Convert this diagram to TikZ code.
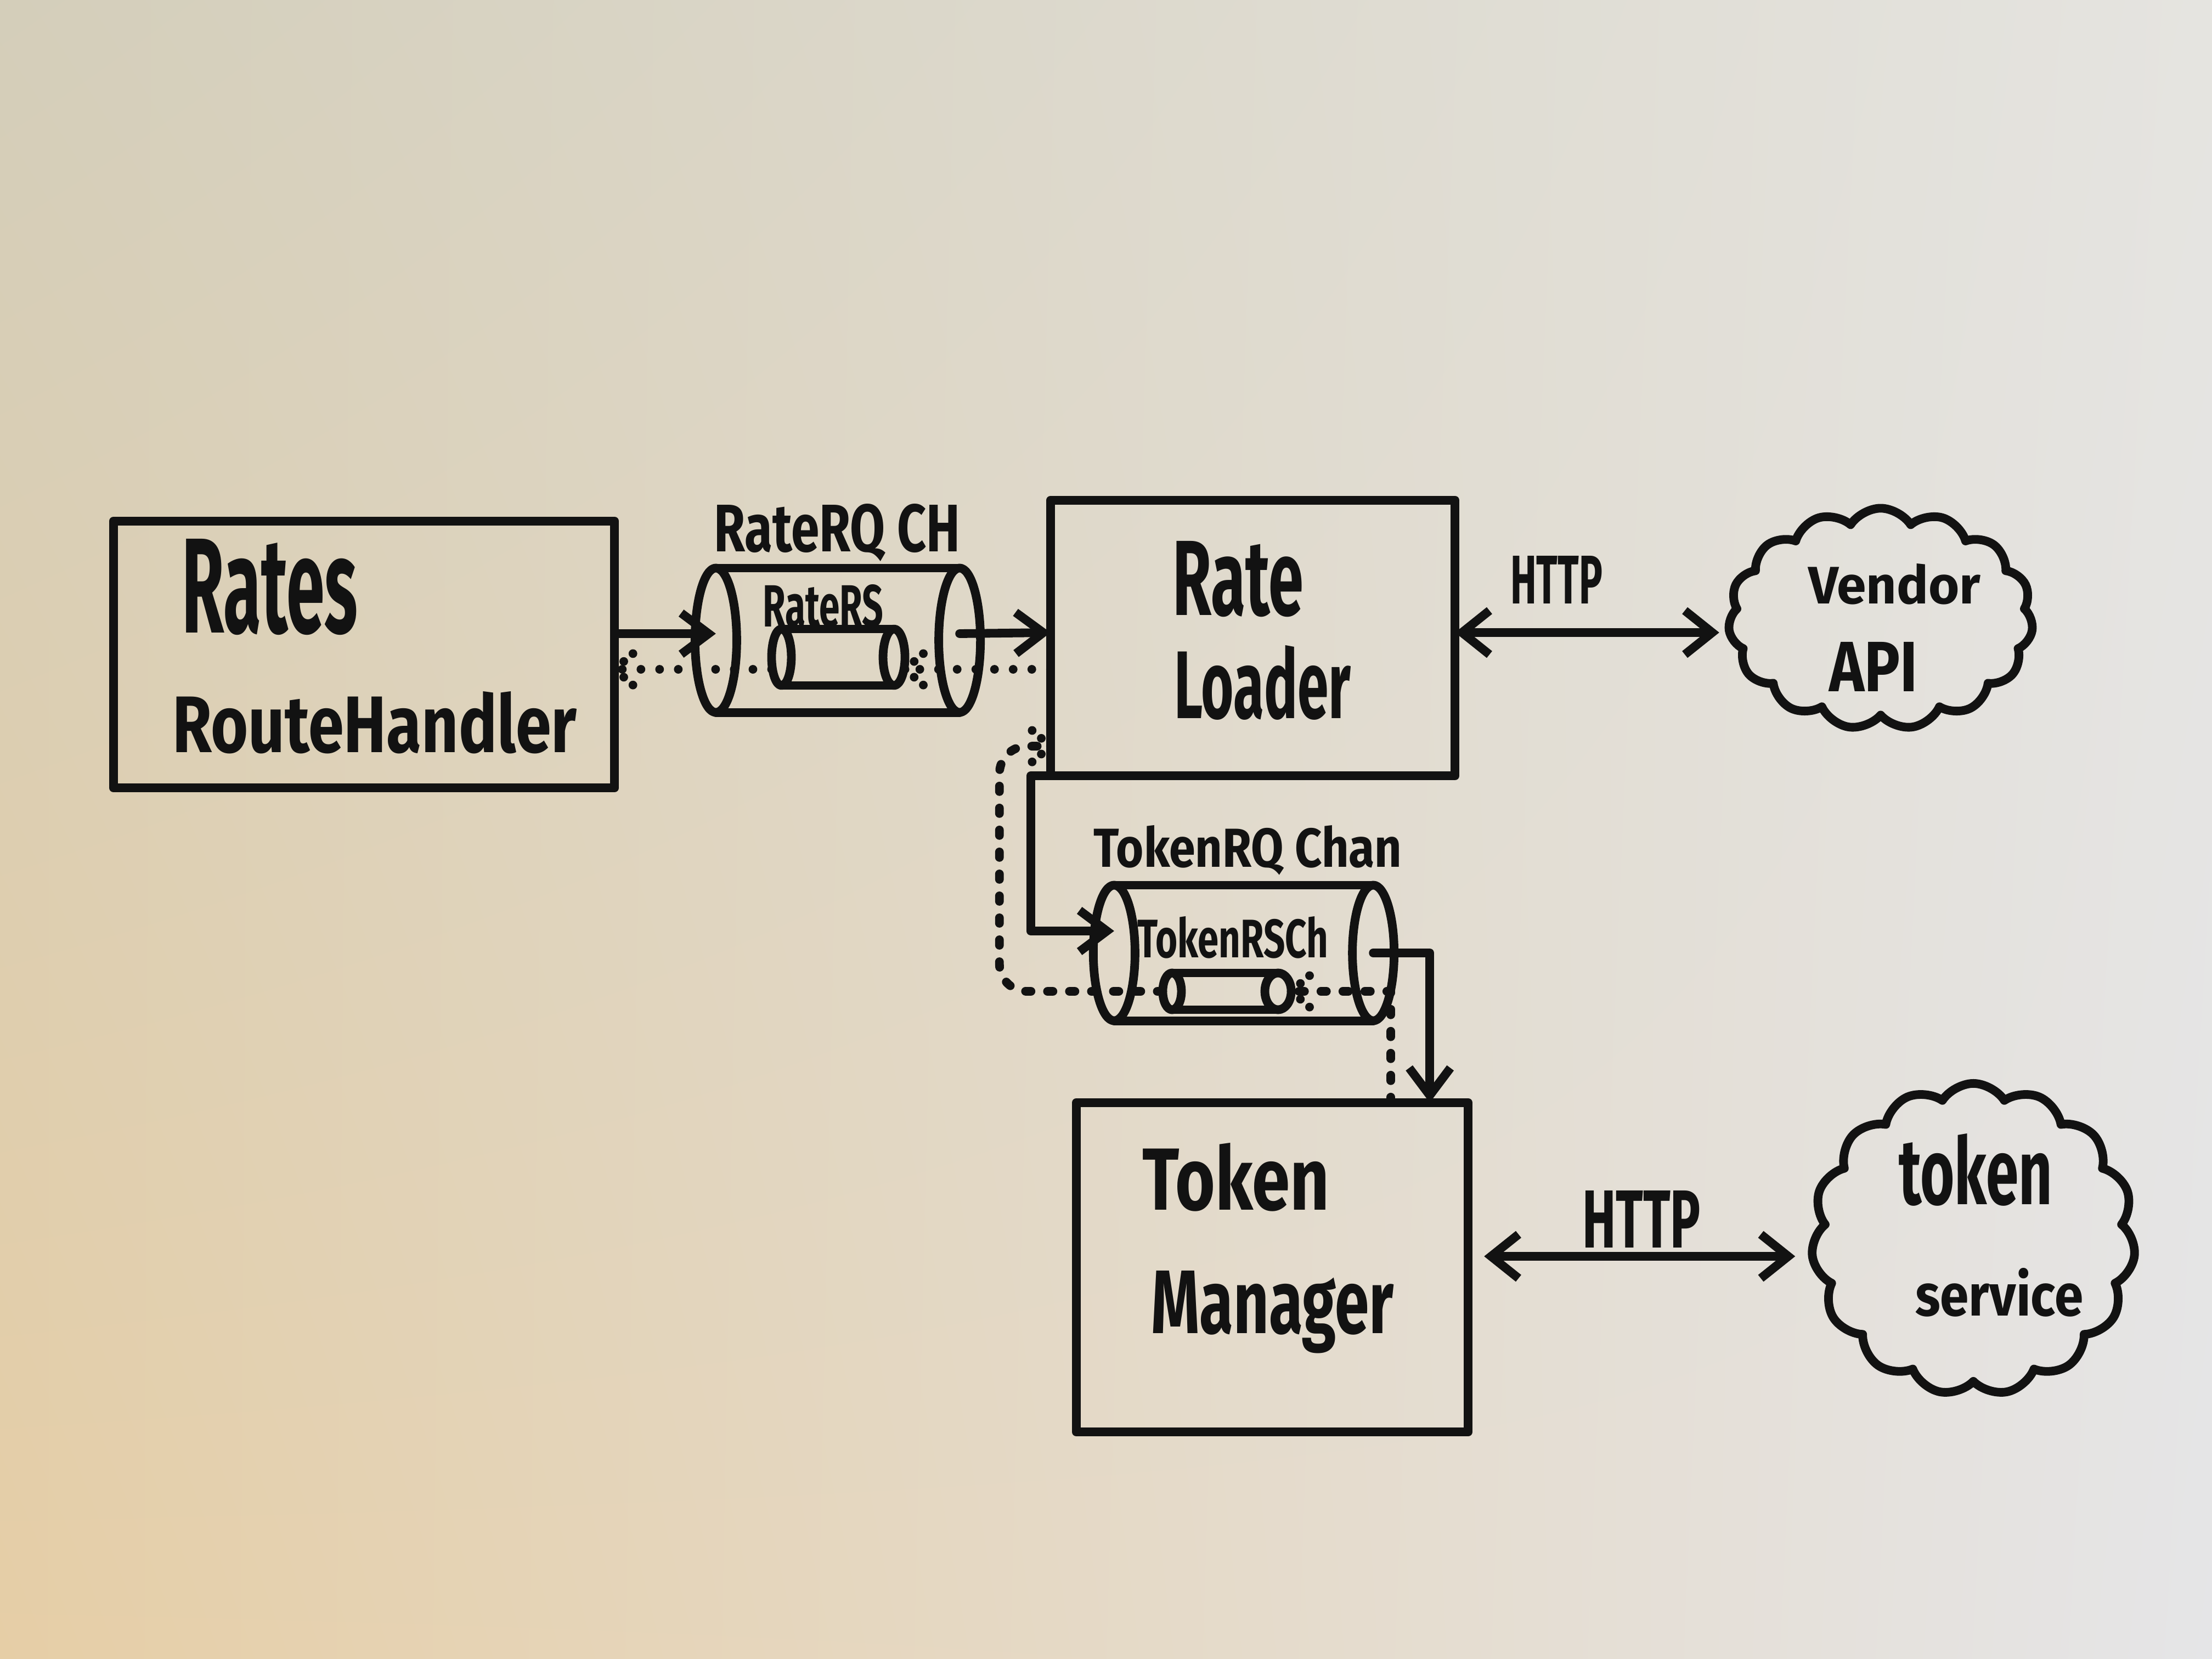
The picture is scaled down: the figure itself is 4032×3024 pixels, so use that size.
\documentclass[tikz,border=0pt]{standalone}
\usepackage{fontspec}
\setmainfont{Fira Sans}
\usepackage{graphicx}
\usetikzlibrary{arrows.meta,shapes.symbols,decorations.markings,calc,shadings}

\definecolor{ink}{HTML}{121212}
\definecolor{bgUL}{HTML}{D4CEBA}
\definecolor{bgUR}{HTML}{E5E4E0}
\definecolor{bgLL}{HTML}{E6CEA6}
\definecolor{bgLR}{HTML}{E5E5E7}
\newcommand{\hw}[3]{\resizebox{#1cm}{#2cm}{\bfseries #3}}

\begin{document}
\begin{tikzpicture}[x=0.01cm,y=-0.01cm,
  ink/.style={draw=ink, line width=4.5pt, line join=round, line cap=round},
  box/.style={ink, rectangle, inner sep=0pt, outer sep=0pt},
  chan/.style={inner sep=0pt, outer sep=0pt},
  txt/.style={inner sep=0pt, outer sep=0pt, text=ink, anchor=base west},
  arr/.style={ink, -{Straight Barb[length=0.5cm,width=0.75cm]}},
  dbl/.style={ink, {Straight Barb[length=0.5cm,width=0.8cm]}-{Straight Barb[length=0.5cm,width=0.8cm]}},
  dots/.style={ink, dash pattern=on 0pt off 0.34cm},
  dashes/.style={ink, dash pattern=on 0.1cm off 0.3cm},
  dotarr/.style={postaction={decorate}, decoration={markings,
     mark=at position 1 with {\draw[ink, dash pattern=on 0pt off 0.22cm]
        (0cm,0cm) -- (-0.42cm,0.36cm) (0cm,0cm) -- (-0.42cm,-0.36cm);}}},
  cloudy/.style={ink, cloud, cloud puffs=15, cloud puff arc=115, cloud ignores aspect, inner sep=0pt, outer sep=0pt}
]
\useasboundingbox (0,0) rectangle (4032,3024);
\shade[upper left=bgUL, upper right=bgUR, lower left=bgLL, lower right=bgLR] (0,0) rectangle (4032,3024);

% boxes
\node[box, minimum width=9.13cm, minimum height=4.86cm] (rh) at (663.5,1193) {};
\node[box, minimum width=7.37cm, minimum height=5.02cm] (rl) at (2283.5,1163) {};
\node[box, minimum width=7.14cm, minimum height=6.00cm] (tm) at (2319,2310) {};

% clouds
\node[cloudy, minimum width=5.55cm, minimum height=4.03cm] (vendor) at (3428,1128) {};
\node[cloudy, minimum width=5.90cm, minimum height=5.68cm] (tsvc) at (3597,2259) {};

% channels (cylinders)
\node[chan, minimum width=4.44cm, minimum height=2.63cm] (rq) at (1527,1167) {};
\draw[ink] (rq.west) ellipse [x radius=0.38cm, y radius=1.315cm];
\draw[ink] (rq.east) ellipse [x radius=0.38cm, y radius=1.315cm];
\draw[ink] (rq.north west) -- (rq.north east) (rq.south west) -- (rq.south east);

\node[chan, minimum width=2.05cm, minimum height=1.03cm] (rs) at (1527,1198) {};
\draw[ink] (rs.west) ellipse [x radius=0.18cm, y radius=0.515cm];
\draw[ink] (rs.east) ellipse [x radius=0.2cm, y radius=0.515cm];
\draw[ink] (rs.north west) -- (rs.north east) (rs.south west) -- (rs.south east);

\node[chan, minimum width=4.72cm, minimum height=2.47cm] (tq) at (2267,1737) {};
\draw[ink] (tq.west) ellipse [x radius=0.38cm, y radius=1.235cm];
\draw[ink] (tq.east) ellipse [x radius=0.38cm, y radius=1.235cm];
\draw[ink] (tq.north west) -- (tq.north east) (tq.south west) -- (tq.south east);

\node[chan, minimum width=1.93cm, minimum height=0.67cm] (ts) at (2233,1807) {};
\draw[ink] (ts.west) ellipse [x radius=0.17cm, y radius=0.335cm];
\draw[ink] (ts.east) ellipse [x radius=0.24cm, y radius=0.335cm];
\draw[ink] (ts.north west) -- (ts.north east) (ts.south west) -- (ts.south east);

% texts
\node[txt] (tRates) at (331,1153) {\hw{3.21}{1.71}{Rates}};
\node[txt] (tRH) at (314,1371) {\hw{7.37}{1.11}{RouteHandler}};
\node[txt] (tRQ) at (1301,1005) {\hw{4.49}{0.87}{RateRQ CH}};
\node[txt] (tRS) at (1390,1142) {\hw{2.20}{0.77}{RateRS}};
\node[txt] (tRate) at (2137,1121) {\hw{2.39}{1.35}{Rate}};
\node[txt] (tLoader) at (2140,1309) {\hw{3.22}{1.33}{Loader}};
\node[txt] (tHttpA) at (2753,1100) {\hw{1.68}{0.87}{HTTP}};
\node[txt] (tVendor) at (3296,1100) {\hw{3.14}{0.73}{Vendor}};
\node[txt] (tAPI) at (3334,1260) {\hw{1.61}{0.90}{API}};
\node[txt] (tTQ) at (1993,1580) {\hw{5.62}{0.76}{TokenRQ Chan}};
\node[txt] (tTS) at (2073,1745) {\hw{3.48}{0.75}{TokenRSCh}};
\node[txt] (tToken) at (2082,2205) {\hw{3.41}{1.22}{Token}};
\node[txt] (tManager) at (2098,2430) {\hw{4.42}{1.14}{Manager}};
\node[txt] (tHttpB) at (2884,2274) {\hw{2.16}{1.04}{HTTP}};
\node[txt] (tTok) at (3461,2195) {\hw{2.80}{1.29}{token}};
\node[txt] (tSvc) at (3491,2398) {\hw{3.06}{0.87}{service}};

% solid request connectors
\draw[arr] ([yshift=0.38cm]rh.east) -- ([yshift=0.12cm]rq.west);
\draw[arr] ([yshift=0.12cm]rq.east) -- ([yshift=0.1cm]rl.west);
\draw[arr] (rl.south west) -- ++(-36,0) |- ([yshift=0.4cm]tq.west);
\draw[arr] (tq.east) -| ([xshift=2.87cm]tm.north);

% HTTP
\draw[dbl, shorten >=0.2cm] ([yshift=0.1cm]rl.east) -- ([yshift=0.1cm]rl.east -| vendor.west);
\draw[dbl, shorten >=0.35cm] ([xshift=0.29cm,yshift=0.2cm]tm.east) -- ([yshift=0.2cm]tm.east -| tsvc.west);

% dotted responses
\draw[dots, dotarr] ([yshift=-0.57cm]rl.west) -- ([xshift=0.2cm,yshift=-0.22cm]rs.east);
\draw[dots, dotarr] ([xshift=-0.18cm,yshift=-0.22cm]rs.west) -- ([yshift=-0.27cm]rh.east);
\draw[dashes, dotarr] ([xshift=2.16cm]tm.north) |- ([xshift=0.24cm]ts.east);
\draw[dashes, dotarr, rounded corners=0.5cm] ([xshift=-0.17cm]ts.west) -| ([xshift=-0.93cm,yshift=-1.97cm]rl.west) -- ([yshift=-1.97cm]rl.west);
\end{tikzpicture}
\end{document}
